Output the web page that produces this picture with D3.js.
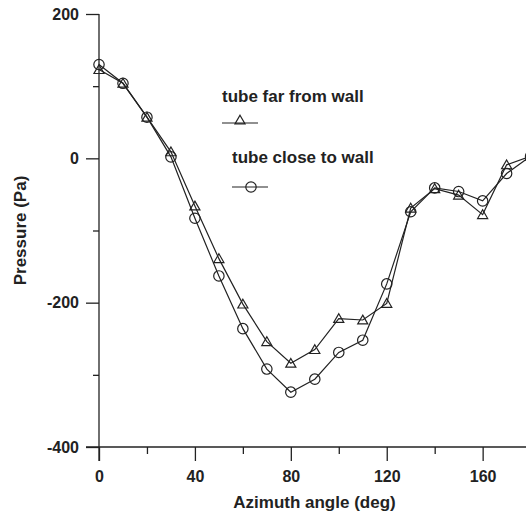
<!DOCTYPE html>
<html>
<head>
<meta charset="utf-8">
<script src="https://cdn.jsdelivr.net/npm/d3@7"></script>
<style>
  html, body { margin: 0; padding: 0; background: #fff; }
  text { font-family: "Liberation Sans", Arial, sans-serif; font-weight: bold; fill: #222; }
</style>
</head>
<body>
<svg id="chart" width="526" height="516"></svg>
<script>
const angles = [0, 10, 20, 30, 40, 50, 60, 70, 80, 90, 100, 110, 120, 130, 140, 150, 160, 170, 180];
const farFromWall = [123, 104, 57, 9, -66, -139, -202, -254, -284, -265, -222, -224, -201, -69, -42, -51, -78, -9, 3];
const closeToWall = [130, 104, 57, 2, -83, -163, -236, -292, -324, -306, -269, -252, -174, -74, -41, -46, -59, -21, 3];
const xMajorTicks = [0, 40, 80, 120, 160];
const xMinorTicks = [20, 60, 100, 140];
const yMajorTicks = [200, 0, -200, -400];
const yMinorTicks = [100, -100, -300];
const seriesNames = ["tube far from wall", "tube close to wall"];
const xTitle = "Azimuth angle (deg)";
const yTitle = "Pressure (Pa)";

const svg = d3.select("#chart");
const ink = "#222";
const fmt = d => String(d);
const x = d3.scaleLinear().domain([0, 180]).range([99, 530.6]);
const y = d3.scaleLinear().domain([-400, 200]).range([447, 14]);

// Y axis
const yAxis = d3.axisLeft(y).tickValues(yMajorTicks).tickSize(13).tickPadding(7).tickFormat(fmt);
const gy = svg.append("g").attr("transform", `translate(${x(0)},0)`).call(yAxis);
gy.select(".domain").remove();
gy.append("line").attr("x1", 0).attr("x2", 0).attr("y1", y(200)).attr("y2", y(-400) + 14).attr("stroke", ink).attr("stroke-width", 1.3);
gy.selectAll(".tick line").attr("stroke", ink).attr("stroke-width", 1.3);
gy.selectAll(".tick text").attr("font-size", 16).attr("fill", ink).attr("font-weight", "bold").style("font-family", '"Liberation Sans", Arial, sans-serif');
const gyMinor = svg.append("g").attr("transform", `translate(${x(0)},0)`)
  .call(d3.axisLeft(y).tickValues(yMinorTicks).tickSize(6).tickFormat(""));
gyMinor.select(".domain").remove();
gyMinor.selectAll(".tick line").attr("stroke", ink).attr("stroke-width", 1.3);

// X axis
const xAxis = d3.axisBottom(x).tickValues(xMajorTicks).tickSize(14).tickPadding(10).tickFormat(fmt);
const gx = svg.append("g").attr("transform", `translate(0,${y(-400)})`).call(xAxis);
gx.select(".domain").remove();
gx.append("line").attr("x1", x(0) - 13).attr("x2", 530).attr("y1", 0).attr("y2", 0).attr("stroke", ink).attr("stroke-width", 1.3);
gx.selectAll(".tick line").attr("stroke", ink).attr("stroke-width", 1.3);
gx.selectAll(".tick text").attr("font-size", 16).attr("fill", ink).attr("font-weight", "bold").style("font-family", '"Liberation Sans", Arial, sans-serif');
const gxMinor = svg.append("g").attr("transform", `translate(0,${y(-400)})`)
  .call(d3.axisBottom(x).tickValues(xMinorTicks).tickSize(7).tickFormat(""));
gxMinor.select(".domain").remove();
gxMinor.selectAll(".tick line").attr("stroke", ink).attr("stroke-width", 1.3);

// Titles
svg.append("text").attr("x", (x(0) + 530) / 2).attr("y", 508).attr("text-anchor", "middle").attr("font-size", 17).text(xTitle);
svg.append("text").attr("transform", `translate(26,${(y(200) + y(-400)) / 2}) rotate(-90)`).attr("text-anchor", "middle").attr("font-size", 17).text(yTitle);

// Series
const line = d3.line().x(d => x(d[0])).y(d => y(d[1]));
const triangle = d3.symbol().type(d3.symbolTriangle).size(44);
const circle = d3.symbol().type(d3.symbolCircle).size(Math.PI * 5.2 * 5.2);
const series = [
  { name: seriesNames[0], values: farFromWall, sym: triangle, dy: 1 },
  { name: seriesNames[1], values: closeToWall, sym: circle, dy: 0 }
];
series.forEach(s => {
  const pts = angles.map((a, i) => [a, s.values[i]]);
  svg.append("path").datum(pts).attr("d", line).attr("fill", "none").attr("stroke", ink).attr("stroke-width", 1.2);
  svg.append("g").selectAll("path").data(pts).join("path")
    .attr("transform", d => `translate(${x(d[0])},${y(d[1]) + s.dy})`)
    .attr("d", s.sym()).attr("fill", "none").attr("stroke", ink).attr("stroke-width", 1.2);
});

// Legend
const legend = [
  { tx: 222, ty: 102, ly: 123, lx1: 222, lx2: 258, mx: 240 },
  { tx: 232, ty: 163, ly: 187, lx1: 232, lx2: 268, mx: 251 }
];
legend.forEach((l, i) => {
  svg.append("text").attr("x", l.tx).attr("y", l.ty).attr("font-size", 17).text(series[i].name);
  svg.append("line").attr("x1", l.lx1).attr("x2", l.lx2).attr("y1", l.ly).attr("y2", l.ly).attr("stroke", ink).attr("stroke-width", 1.2);
  svg.append("path").attr("transform", `translate(${l.mx},${l.ly + series[i].dy - (i === 0 ? 3 : 0)})`).attr("d", series[i].sym())
    .attr("fill", "none").attr("stroke", ink).attr("stroke-width", 1.2);
});
</script>
</body>
</html>
